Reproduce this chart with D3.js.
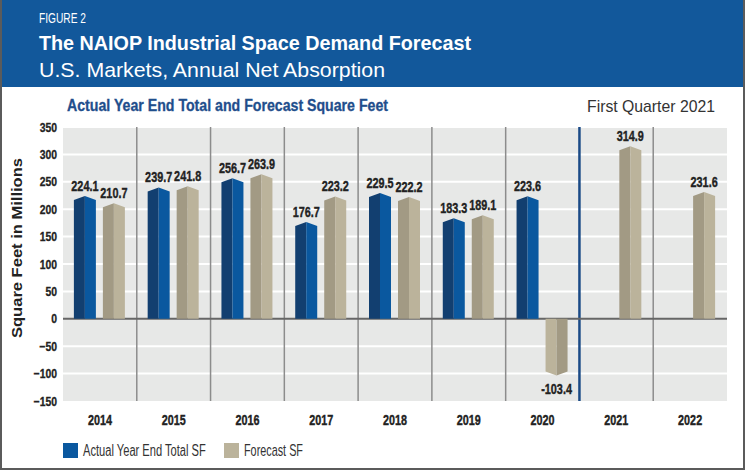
<!DOCTYPE html>
<html>
<head>
<meta charset="utf-8">
<script src="https://cdn.jsdelivr.net/npm/d3@7"></script>
<style>
  body { margin: 0; background: #fff; }
  svg { display: block; }
</style>
</head>
<body>
<div class="chart"></div>
<script>
const years = ['2014', '2015', '2016', '2017', '2018', '2019', '2020', '2021', '2022'];
const actual = [224.1, 239.7, 256.7, 176.7, 229.5, 183.3, 223.6, null, null];
const forecast = [210.7, 241.8, 263.9, 223.2, 222.2, 189.1, -103.4, 314.9, 231.6];
const yTicks = [-150, -100, -50, 0, 50, 100, 150, 200, 250, 300, 350];
const seriesNames = ['Actual Year End Total SF', 'Forecast SF'];

const width = 745;
const height = 470;
const font = '"Liberation Sans", Arial, sans-serif';

// squeeze a regular face into a condensed look
function condense(sel, k) {
  sel.each(function () {
    const len = this.getComputedTextLength();
    d3.select(this).attr('textLength', len * k).attr('lengthAdjust', 'spacingAndGlyphs');
  });
}

const svg = d3.select('.chart').append('svg')
  .attr('width', width)
  .attr('height', height)
  .style('font-family', font)

// frame + header band
svg.append('rect')
  .attr('x', 1).attr('y', 1).attr('width', width - 2).attr('height', height - 2)
  .attr('fill', '#fff').attr('stroke', '#5b5b5b').attr('stroke-width', 2)
svg.append('rect')
  .attr('x', 2).attr('y', 0).attr('width', width - 4).attr('height', 87)
  .attr('fill', '#12589b')

svg.append('text')
  .attr('x', 39).attr('y', 23)
  .attr('fill', '#fff').style('font-size', '14px')
  .attr('textLength', 47).attr('lengthAdjust', 'spacingAndGlyphs')
  .text('FIGURE 2')
svg.append('text')
  .attr('x', 39).attr('y', 50)
  .attr('fill', '#fff').style('font-size', '21px').style('font-weight', 'bold')
  .attr('textLength', 432).attr('lengthAdjust', 'spacingAndGlyphs')
  .text('The NAIOP Industrial Space Demand Forecast')
svg.append('text')
  .attr('x', 39).attr('y', 77)
  .attr('fill', '#fff').style('font-size', '21px')
  .attr('textLength', 346).attr('lengthAdjust', 'spacingAndGlyphs')
  .text('U.S. Markets, Annual Net Absorption')

svg.append('text')
  .attr('x', 67).attr('y', 111)
  .attr('fill', '#1f4e8c').attr('stroke', '#1f4e8c').attr('stroke-width', 0.3)
  .style('font-size', '16px').style('font-weight', 'bold')
  .attr('textLength', 321).attr('lengthAdjust', 'spacingAndGlyphs')
  .text('Actual Year End Total and Forecast Square Feet')
svg.append('text')
  .attr('x', 715).attr('y', 112)
  .attr('text-anchor', 'end')
  .attr('fill', '#333').style('font-size', '17px')
  .attr('textLength', 128).attr('lengthAdjust', 'spacingAndGlyphs')
  .text('First Quarter 2021')

// scales
const x = d3.scaleBand().domain(years).range([63, 727]);
const y = d3.scaleLinear().domain([-150, 350]).range([401, 127]);

svg.append('rect')
  .attr('x', x.range()[0]).attr('y', y(350))
  .attr('width', x.range()[1] - x.range()[0]).attr('height', y(-150) - y(350))
  .attr('fill', '#e7e8e7')

svg.selectAll('.grid')
  .data(yTicks.filter(d => d !== 0 && d !== -150))
  .enter()
  .append('line')
  .attr('x1', x.range()[0]).attr('x2', x.range()[1])
  .attr('y1', d => y(d)).attr('y2', d => y(d))
  .attr('stroke', '#fff').attr('stroke-width', 2)

// group separators
svg.selectAll('.sep')
  .data(years.slice(1))
  .enter()
  .append('line')
  .attr('x1', d => x(d)).attr('x2', d => x(d))
  .attr('y1', y(350)).attr('y2', y(-150))
  .attr('stroke', d => d === '2021' ? '#1a4a86' : '#8c8c8c')
  .attr('stroke-width', d => d === '2021' ? 2.5 : 1.5)

svg.append('line')
  .attr('x1', x.range()[0]).attr('x2', x.range()[1])
  .attr('y1', y(0)).attr('y2', y(0))
  .attr('stroke', '#666').attr('stroke-width', 2)

// prism bars
const cap = 4;
const barW = 22;
function halves(v, x0) {
  const y0 = y(0), y1 = y(v), xm = x0 + barW / 2, x1 = x0 + barW;
  const c = v >= 0 ? cap : -cap;
  return [
    `M${x0},${y0}L${x0},${y1 + c}L${xm},${y1}L${xm},${y0}Z`,
    `M${xm},${y0}L${xm},${y1}L${x1},${y1 + c}L${x1},${y0}Z`
  ];
}

const series = [
  { name: 'actual', values: actual, off: -26, dark: '#123f70', light: '#0a589f' },
  { name: 'forecast', values: forecast, off: 3, dark: '#a29a84', light: '#bbb39b' }
];

series.forEach(s => {
  const rows = years.map((yr, i) => ({ yr, v: s.values[i] })).filter(d => d.v !== null);
  const g = svg.append('g').attr('class', s.name);
  const bx = d => x(d.yr) + x.bandwidth() / 2 + s.off;
  g.selectAll('path.l')
    .data(rows)
    .enter()
    .append('path')
    .attr('d', d => halves(d.v, bx(d))[0])
    .attr('fill', d => d.v >= 0 ? s.dark : s.light)
  g.selectAll('path.r')
    .data(rows)
    .enter()
    .append('path')
    .attr('d', d => halves(d.v, bx(d))[1])
    .attr('fill', d => d.v >= 0 ? s.light : s.dark)
  // value labels, squeezed horizontally with a transform
  g.selectAll('text')
    .data(rows)
    .enter()
    .append('text')
    .attr('transform', d => `translate(${bx(d) + barW / 2},${d.v >= 0 ? y(d.v) - 5 : y(d.v) + 19}) scale(0.7,1)`)
    .attr('text-anchor', 'middle')
    .attr('fill', '#222').attr('stroke', '#222').attr('stroke-width', 0.4)
    .style('font-size', '15.5px').style('font-weight', 'bold')
    .text(d => d.v.toFixed(1))
});

// axes
const yAxis = svg.append('g')
  .attr('transform', `translate(${x.range()[0]},0)`)
  .call(d3.axisLeft(y).tickValues(yTicks).tickSize(0).tickPadding(6))
yAxis.select('.domain').remove()
yAxis.selectAll('text')
  .attr('fill', '#222').attr('stroke', '#222').attr('stroke-width', 0.3)
  .style('font-family', font).style('font-size', '13px').style('font-weight', 'bold')
  .call(condense, 0.8)

const xAxis = svg.append('g')
  .attr('transform', `translate(0,${y(-150)})`)
  .call(d3.axisBottom(x).tickSize(0).tickPadding(13))
xAxis.select('.domain').remove()
xAxis.selectAll('text')
  .attr('fill', '#222').attr('stroke', '#222').attr('stroke-width', 0.4)
  .style('font-family', font).style('font-size', '15px').style('font-weight', 'bold')
  .call(condense, 0.72)

svg.append('text')
  .attr('transform', 'translate(22,248) rotate(-90)')
  .attr('text-anchor', 'middle')
  .attr('fill', '#222').style('font-size', '14px').style('font-weight', 'bold')
  .attr('textLength', 180).attr('lengthAdjust', 'spacingAndGlyphs')
  .text('Square Feet in Millions')

// legend
const legendX = [63, 224];
const legendW = [123, 59];
const legendFill = ['#0a589f', '#bbb39b'];
const legend = svg.selectAll('.legend')
  .data(seriesNames)
  .enter()
  .append('g')
  .attr('transform', (d, i) => `translate(${legendX[i]},443)`)
legend.append('rect')
  .attr('width', 15).attr('height', 15)
  .attr('fill', (d, i) => legendFill[i])
legend.append('text')
  .attr('fill', '#333').style('font-size', '16px')
  .text(d => d)
  .each(function (d, i) {
    const k = legendW[i] / this.getComputedTextLength();
    d3.select(this).attr('transform', `translate(20,13) scale(${k},1)`);
  })
</script>
</body>
</html>
